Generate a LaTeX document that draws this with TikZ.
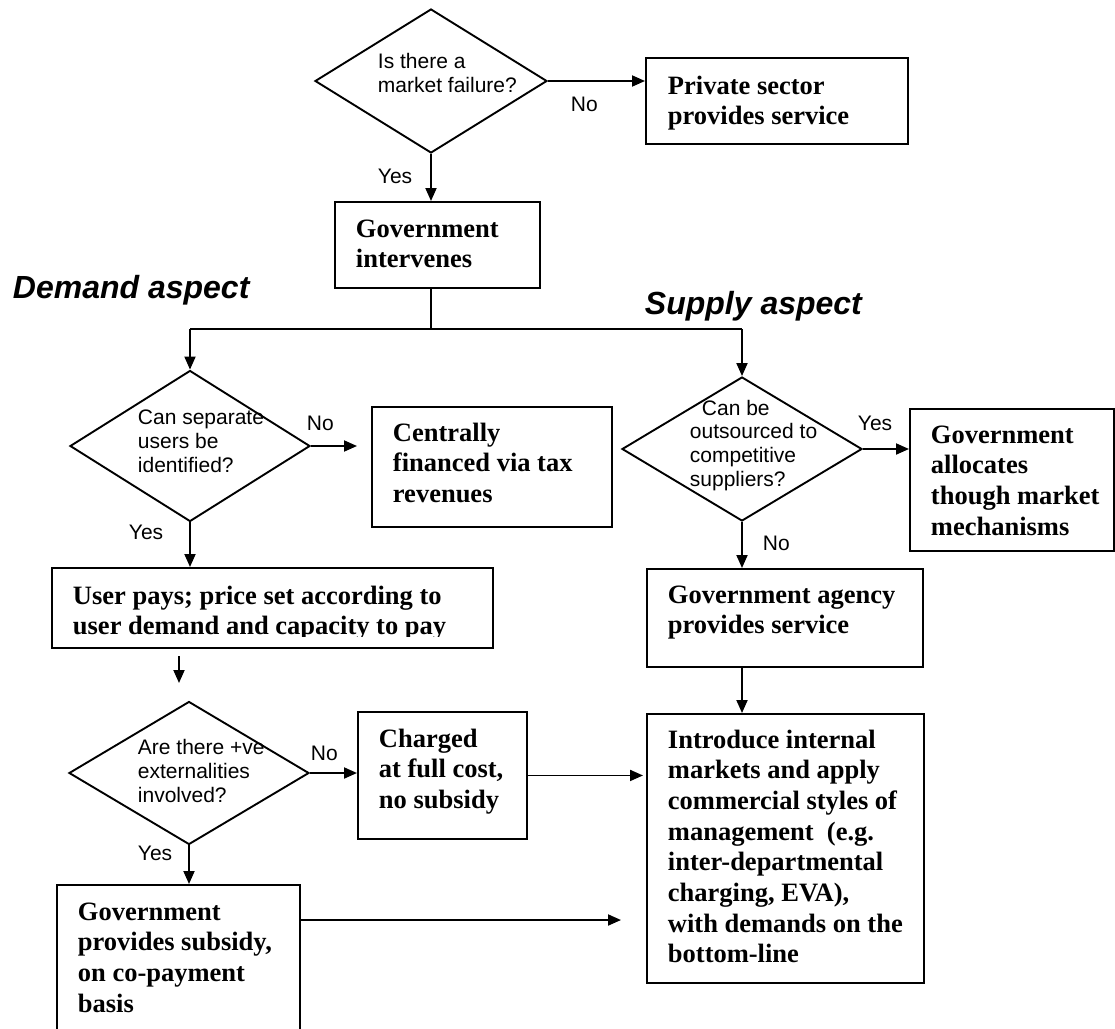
\documentclass[tikz,border=0pt]{standalone}
\usepackage{fontspec}
\setmainfont{Liberation Serif}
\newfontfamily\lsans{Liberation Sans}
\usetikzlibrary{shapes.geometric,arrows.meta,calc}
\begin{document}
\begin{tikzpicture}[x=1pt,y=-1pt,line width=1.9pt,
  arr/.style={-{Triangle[length=13pt,width=11pt]}},
  boxn/.style={draw,rectangle,inner sep=0pt,anchor=north west},
  dia/.style={draw,diamond,inner sep=0pt},
  lbl/.style={font=\lsans\fontsize{21}{24}\selectfont,inner sep=0pt,anchor=base west,align=left},
  btxt/.style={font=\bfseries\fontsize{26.5}{30.7}\selectfont,inner sep=0pt,anchor=base west,align=left},
  aspect/.style={font=\lsans\bfseries\itshape\fontsize{32}{38}\selectfont,inner sep=0pt,anchor=base west}]
\clip (0,0) rectangle (1115,1028);
\fill[white] (0,0) rectangle (1115,1028);
% boxes
\node[boxn,minimum width=262pt,minimum height=86pt] (priv) at (645,57) {};
\node[boxn,minimum width=205pt,minimum height=86pt] (gov) at (334,201) {};
\node[boxn,minimum width=240pt,minimum height=120pt] (central) at (371,406) {};
\node[boxn,minimum width=441pt,minimum height=80pt] (user) at (51,567) {};
\node[boxn,minimum width=169pt,minimum height=127pt] (charged) at (357,711) {};
\node[boxn,minimum width=243pt,minimum height=170pt] (subsidy) at (56,884) {};
\node[boxn,minimum width=204pt,minimum height=142pt] (alloc) at (909,408) {};
\node[boxn,minimum width=276pt,minimum height=98pt] (agency) at (646,568) {};
\node[boxn,minimum width=277pt,minimum height=269pt] (intro) at (646,713) {};
% diamonds
\node[dia,minimum width=232pt,minimum height=144pt] (d1) at (431,81) {};
\node[dia,minimum width=240pt,minimum height=151pt] (d2) at (190,446) {};
\node[dia,minimum width=240pt,minimum height=143pt] (d3) at (189,773) {};
\node[dia,minimum width=240pt,minimum height=144pt] (d4) at (742,449) {};
% connectors
\coordinate (jl) at (190,329);
\coordinate (jr) at (742,329);
\coordinate (s1) at (179,656);
\coordinate (s2) at (179,683);
\coordinate (sb) at (299,920);
\draw[arr] (d1.east) -- (d1.east -| priv.west);
\draw[arr] (d1.south) -- (d1.south |- gov.north);
\draw (d1.south |- gov.south) -- (d1.south |- jl);
\draw (jl) -- (jr);
\draw[arr] (jl) -- (d2.north);
\draw[arr] (jr) -- (d4.north);
\draw[arr,shorten >=14pt] (d2.east) -- (d2.east -| central.west);
\draw[arr] (d2.south) -- (d2.south |- user.north);
\draw[arr] (s1) -- (s2);
\draw[arr] (d3.east) -- (d3.east -| charged.west);
\draw[arr] (d3.south) -- (d3.south |- subsidy.north);
\draw[arr,shorten >=3pt] (charged.east) -- (charged.east -| intro.west);
\draw[arr,shorten >=25pt] (sb) -- (sb -| intro.west);
\draw[arr] (d4.east) -- (d4.east -| alloc.west);
\draw[arr] (d4.south) -- (d4.south |- agency.north);
\draw[arr] (d4.south |- agency.south) -- (d4.south |- intro.north);
% diamond texts (anchor at baseline of last line)
\node[lbl] (t1) at (377,92) {Is there a\\market failure?};
\node[lbl] (t2) at (137,472) {Can separate\\users be\\identified?};
\node[lbl] (t3) at (137,802) {Are there +ve\\externalities\\involved?};
\node[lbl] (t4a) at (701,415) {Can be};
\node[lbl] (t4) at (689,486) {outsourced to\\competitive\\suppliers?};
% yes/no labels
\node[lbl] (n1) at (570,111) {No};
\node[lbl] (y1) at (377,183) {Yes};
\node[lbl] (n2) at (306,430) {No};
\node[lbl] (y2) at (128,539) {Yes};
\node[lbl] (n3) at (310,760) {No};
\node[lbl] (y3) at (137,860) {Yes};
\node[lbl] (y4) at (857,430) {Yes};
\node[lbl] (n4) at (762,550) {No};
% aspects
\node[aspect] (dem) at (12,298) {Demand aspect};
\node[aspect] (sup) at (644,314) {Supply aspect};
% box texts (anchor at baseline of last line)
\node[btxt] (tpriv) at (667,124.7) {Private sector\\provides service};
\node[btxt] (tgov) at (355,267.7) {Government\\intervenes};
\node[btxt] (tcen) at (392,502.4) {Centrally\\financed via tax\\revenues};
\begin{scope}
\clip (51,567) rectangle (492,636);
\node[btxt] (tuser) at (72,634.7) {User pays; price set according to\\user demand and capacity to pay};
\end{scope}
\node[btxt] (tchg) at (378,808.4) {Charged\\at full cost,\\no subsidy};
\node[btxt] (tsub) at (77,1012.1) {Government\\provides subsidy,\\on co-payment\\basis};
\node[btxt] (talloc) at (930,535.1) {Government\\allocates\\though market\\mechanisms};
\node[btxt] (tag) at (667,633.7) {Government agency\\provides service};
\node[btxt] (tint) at (667,962.9) {Introduce internal\\markets and apply\\commercial styles of\\management~~(e.g.\\inter-departmental\\charging, EVA),\\with demands on the\\bottom-line};
\end{tikzpicture}
\end{document}
